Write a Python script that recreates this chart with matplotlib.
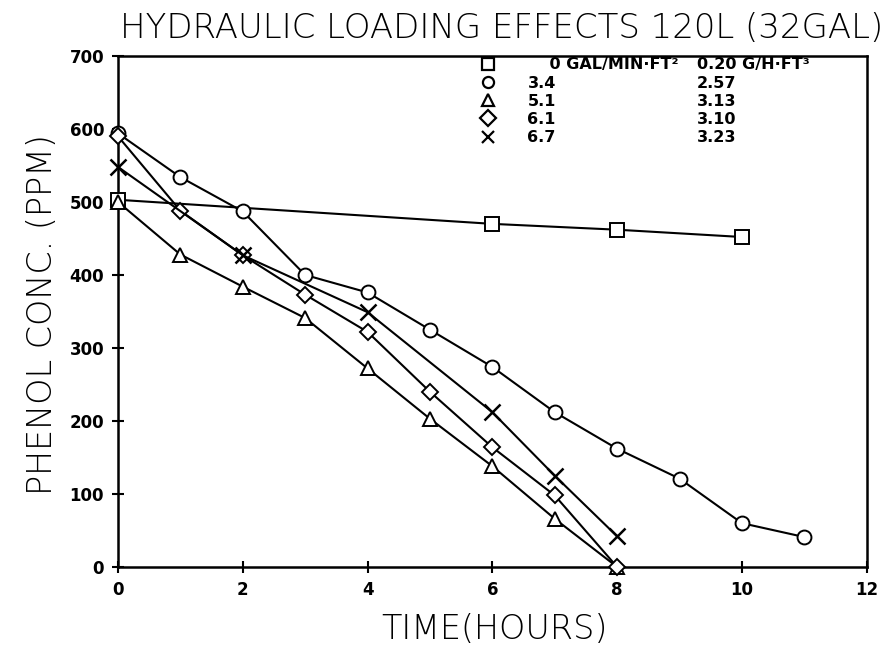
"""Phenol concentration vs time for several hydraulic loadings (120 L reactor)."""

import matplotlib

matplotlib.use("Agg")
import matplotlib.pyplot as plt
from matplotlib.lines import Line2D

# --- data ---
t_0gal = [0, 6, 8, 10]
c_0gal = [503, 470, 462, 452]

t_34 = [0, 1, 2, 3, 4, 5, 6, 7, 8, 9, 10, 11]
c_34 = [594, 534, 487, 400, 376, 325, 274, 212, 162, 121, 60, 41]

t_51 = [0, 1, 2, 3, 4, 5, 6, 7, 8]
c_51 = [500, 428, 384, 341, 272, 203, 138, 66, 0]

t_61 = [0, 1, 2, 3, 4, 5, 6, 7, 8]
c_61 = [590, 488, 427, 373, 322, 240, 164, 98, 0]

t_67 = [0, 2, 4, 6, 7, 8]
c_67 = [548, 427, 349, 212, 125, 42]

loading_labels = ["    0 GAL/MIN\u00b7FT\u00b2", "3.4", "5.1", "6.1", "6.7"]
rate_labels = ["0.20 G/H\u00b7FT\u00b3", "2.57", "3.13", "3.10", "3.23"]
markers = ["s", "o", "^", "D", "x"]

x_ticks = [0, 2, 4, 6, 8, 10, 12]
y_ticks = [0, 100, 200, 300, 400, 500, 600, 700]

plt.rcParams["font.family"] = ["DejaVu Sans"]

fig = plt.figure(figsize=(8.83, 6.56), dpi=100)
ax = fig.add_axes([0.1336, 0.1357, 0.848, 0.779])

series = [(t_0gal, c_0gal), (t_34, c_34), (t_51, c_51), (t_61, c_61), (t_67, c_67)]
for (t, c), m in zip(series, markers):
    ms = 8 if m == "D" else 10
    if m == "x":
        ms = 11
    ax.plot(t, c, color="black", linewidth=1.5, marker=m, markersize=ms,
            markerfacecolor="white", markeredgecolor="black",
            markeredgewidth=1.8 if m == "x" else 1.4, clip_on=False, zorder=3)

ax.set_xlim(0, 12)
ax.set_ylim(0, 700)
ax.set_xticks(x_ticks)
ax.set_yticks(y_ticks)
ax.tick_params(direction="inout", length=8, width=1.5, labelsize=12, pad=6)
for lab in ax.get_xticklabels() + ax.get_yticklabels():
    lab.set_fontweight("bold")
for sp in ax.spines.values():
    sp.set_linewidth(1.8)

# legend: marker + loading, then a second column with the rate
handles = [Line2D([], [], linestyle="none", marker=m, markersize=8 if m != "x" else 9,
                  markerfacecolor="white", markeredgecolor="black", markeredgewidth=1.6)
           for m in markers]
leg_kw = dict(frameon=False, labelspacing=0.2, borderpad=0, borderaxespad=0,
              prop={"size": 11.5, "weight": "bold"})
leg1 = ax.legend(handles, loading_labels, loc="upper left", bbox_to_anchor=(0.485, 0.997),
                 handlelength=0.8, handletextpad=2.1, **leg_kw)
ax.add_artist(leg1)
blank = [Line2D([], [], linestyle="none") for _ in rate_labels]
ax.legend(blank, rate_labels, loc="upper left", bbox_to_anchor=(0.773, 0.997),
          handlelength=0, handletextpad=0, **leg_kw)

fig.text(0.568, 0.957, "HYDRAULIC LOADING EFFECTS 120L (32GAL)", ha="center", va="center",
         fontsize=24.5, fontweight="light")
fig.text(0.048, 0.52, "PHENOL CONC. (PPM)", ha="center", va="center", rotation=90,
         fontsize=24, fontweight="light")
fig.text(0.56, 0.04, "TIME(HOURS)", ha="center", va="center", fontsize=24,
         fontweight="light")

fig.savefig("out.png", dpi=100, facecolor="white")
